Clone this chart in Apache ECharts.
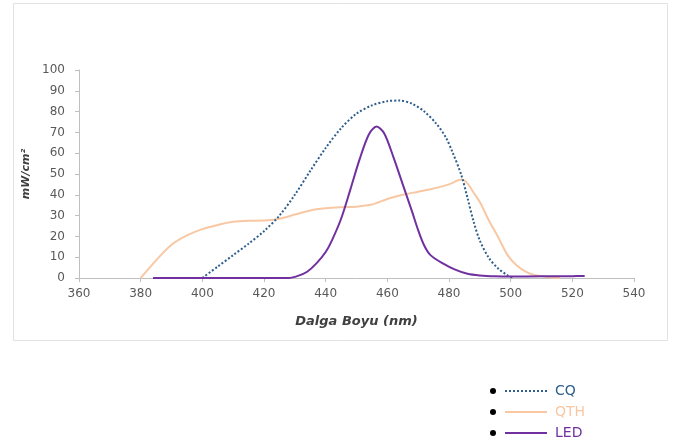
<!DOCTYPE html>
<html>
<head>
<meta charset="utf-8">
<script src="https://cdn.jsdelivr.net/npm/echarts@6/dist/echarts.min.js"></script>
<style>
  html, body { margin: 0; padding: 0; background: #ffffff; }
  #chart { width: 675px; height: 444px; }
</style>
</head>
<body>
<div id="chart"></div>
<script>
// Spectral output of three curing lights (wavelength in nm, irradiance in mW/cm²)
var xTicks = [360, 380, 400, 420, 440, 460, 480, 500, 520, 540];
var yTicks = [0, 10, 20, 30, 40, 50, 60, 70, 80, 90, 100];

var cqWavelength = [400, 405, 410, 415, 420, 425, 430, 435, 440, 445, 450, 455, 460, 464, 468, 472, 476, 479, 481, 484, 486, 488, 490, 493, 496, 499, 501];
var cqValues     = [0, 5.5, 11, 16.5, 22.5, 30, 40, 51.5, 62.5, 72, 79, 83, 85, 85.3, 83.8, 80, 74, 67.5, 61, 49.5, 38.5, 27, 18, 9.5, 4.5, 1.3, 0];

var qthWavelength = [380, 385, 390, 395, 400, 405, 410, 415, 420, 425, 430, 435, 440, 445, 450, 455, 460, 465, 470, 475, 480, 484, 486, 488, 490, 493, 496, 499, 502, 505, 508, 512, 516];
var qthValues     = [0, 8.5, 16, 20.5, 23.5, 25.5, 27, 27.5, 27.6, 28.5, 30.5, 32.5, 33.5, 34, 34.3, 35.3, 38, 40, 41.5, 43, 45, 47.3, 45.5, 41, 36.5, 27.5, 19.5, 11, 6, 3, 1.3, 0.5, 0];

var ledWavelength = [384, 400, 420, 428, 431, 434, 437, 440, 442, 445, 448, 451, 454, 456.5, 459, 462, 465, 468, 470, 472, 474, 478, 482, 486, 490, 495, 500, 510, 520, 524];
var ledValues     = [0, 0, 0, 0, 1, 3, 7, 12.5, 18, 28.5, 42.5, 57, 69, 72.8, 69.5, 58, 45, 32, 23, 15.5, 11, 7, 4, 2, 1.2, 0.8, 0.7, 0.8, 0.9, 1];

var seriesNames = ['CQ', 'QTH', 'LED'];
var seriesColors = ['#2E5E8C', '#F8C8A4', '#7030A0'];

function pairs(xs, ys) {
  return xs.map(function (x, i) { return [x, ys[i]]; });
}

var uiFont = 'DejaVu Sans';
var chart = echarts.init(document.getElementById('chart'), null, { renderer: 'canvas' });

chart.setOption({
  animation: false,
  backgroundColor: '#ffffff',
  grid: { left: 79, right: 41, top: 70, bottom: 166, containLabel: false },
  xAxis: {
    type: 'value',
    min: xTicks[0],
    max: xTicks[xTicks.length - 1],
    interval: 20,
    name: 'Dalga Boyu (nm)',
    nameLocation: 'middle',
    nameGap: 37,
    nameTextStyle: { fontFamily: uiFont, fontSize: 13, fontWeight: 'bold', fontStyle: 'italic', color: '#404040' },
    axisLine: { lineStyle: { color: '#BFBFBF', width: 1 } },
    axisTick: { show: true, length: 4, lineStyle: { color: '#BFBFBF' } },
    axisLabel: { fontFamily: uiFont, fontSize: 12, color: '#595959', margin: 10 },
    splitLine: { show: false }
  },
  yAxis: {
    type: 'value',
    min: yTicks[0],
    max: yTicks[yTicks.length - 1],
    interval: 10,
    name: 'mW/cm²',
    nameLocation: 'middle',
    nameGap: 47,
    nameTextStyle: { fontFamily: uiFont, fontSize: 11, fontWeight: 'bold', fontStyle: 'italic', color: '#404040' },
    axisLine: { show: true, lineStyle: { color: '#BFBFBF', width: 1 } },
    axisTick: { show: true, length: 4, lineStyle: { color: '#BFBFBF' } },
    axisLabel: { fontFamily: uiFont, fontSize: 12, color: '#595959', margin: 14 },
    splitLine: { show: false }
  },
  legend: {
    orient: 'vertical',
    left: 504,
    top: 384,
    padding: 0,
    itemWidth: 42,
    itemHeight: 14,
    itemGap: 7,
    itemStyle: { opacity: 0 },
    data: seriesNames.map(function (n, i) {
      return { name: n, textStyle: { color: seriesColors[i] } };
    }),
    textStyle: { fontFamily: uiFont, fontSize: 14, padding: [0, 0, 0, 3] }
  },
  graphic: [
    {
      type: 'rect',
      shape: { x: 13.5, y: 3.5, width: 654, height: 337 },
      style: { fill: 'none', stroke: '#E2E2E2', lineWidth: 1 },
      silent: true
    },
    { type: 'circle', shape: { cx: 493, cy: 391, r: 3 }, style: { fill: '#000000' }, silent: true },
    { type: 'circle', shape: { cx: 493, cy: 412, r: 3 }, style: { fill: '#000000' }, silent: true },
    { type: 'circle', shape: { cx: 493, cy: 433, r: 3 }, style: { fill: '#000000' }, silent: true }
  ],
  series: [
    {
      name: seriesNames[0],
      type: 'line',
      data: pairs(cqWavelength, cqValues),
      smooth: 0.3,
      symbol: 'none',
      lineStyle: { color: seriesColors[0], width: 2, type: [2, 2] },
      itemStyle: { color: seriesColors[0] },
      z: 3
    },
    {
      name: seriesNames[1],
      type: 'line',
      data: pairs(qthWavelength, qthValues),
      smooth: 0.3,
      symbol: 'none',
      lineStyle: { color: seriesColors[1], width: 2 },
      itemStyle: { color: seriesColors[1] },
      z: 2
    },
    {
      name: seriesNames[2],
      type: 'line',
      data: pairs(ledWavelength, ledValues),
      smooth: 0.3,
      symbol: 'none',
      lineStyle: { color: seriesColors[2], width: 2 },
      itemStyle: { color: seriesColors[2] },
      z: 4
    }
  ]
});
</script>
</body>
</html>
